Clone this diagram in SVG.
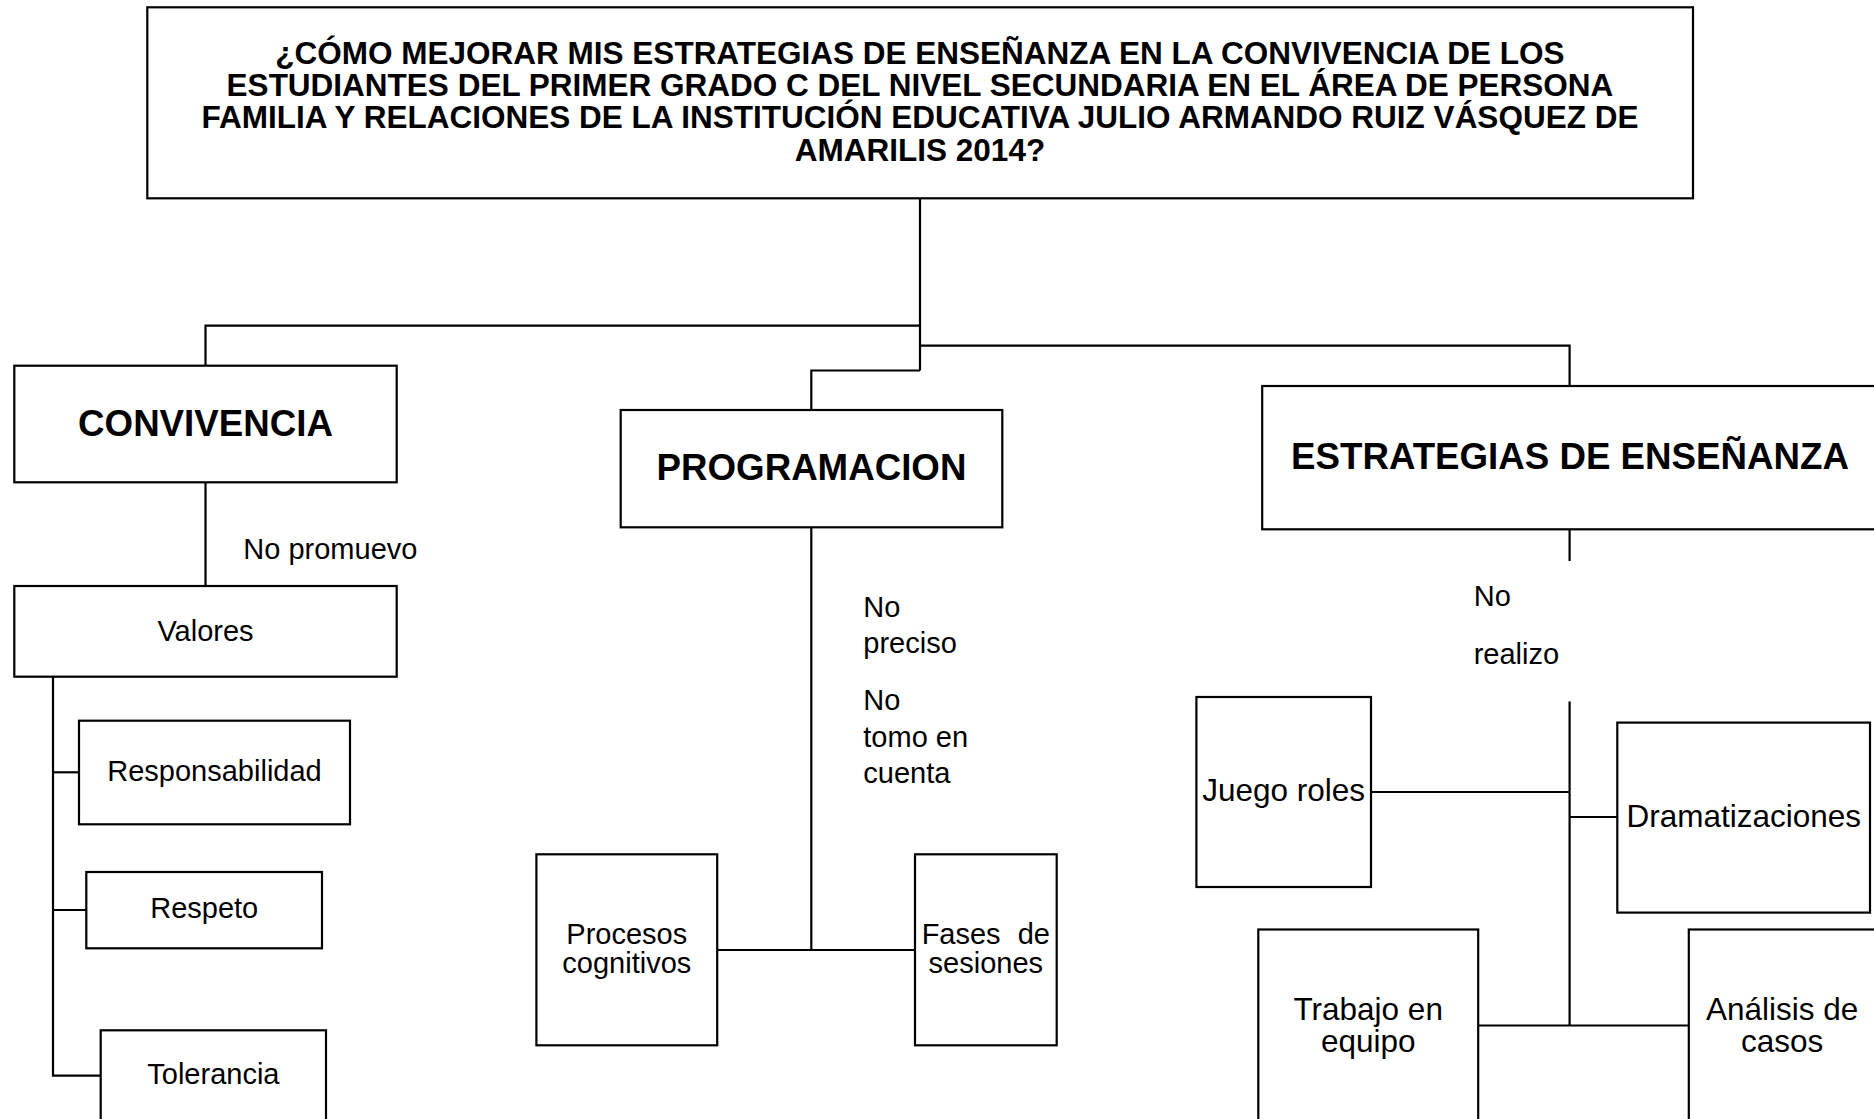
<svg xmlns="http://www.w3.org/2000/svg" width="1874" height="1119" viewBox="0 0 1874 1119">
<style>
  .box { fill: #ffffff; stroke: #000000; stroke-width: 2.2; }
  .ln { fill: none; stroke: #000000; stroke-width: 2.2; }
  text { font-family: "Liberation Sans", Arial, sans-serif; fill: #000000; }
  .title { font-size: 31.5px; font-weight: bold; text-anchor: middle; }
  .head { font-size: 36.7px; font-weight: bold; text-anchor: middle; }
  .lbl { font-size: 29px; text-anchor: middle; }
  .lbl2 { font-size: 31.5px; text-anchor: middle; }
  .note { font-size: 29px; }
</style>
<rect width="1874" height="1119" fill="#ffffff"/>

<g id="connectors">
  <path class="ln" d="M920,198 V370.5"/>
  <path class="ln" d="M920,325.7 H205.5 V365.7"/>
  <path class="ln" d="M920,345.7 H1569.6 V386"/>
  <path class="ln" d="M920,370.5 H811.3 V410"/>
  <path class="ln" d="M205.5,482.3 V586"/>
  <path class="ln" d="M53,676.7 V1075.7 H100.7"/>
  <path class="ln" d="M53,772.3 H79"/>
  <path class="ln" d="M53,910 H86.3"/>
  <path class="ln" d="M811.3,527.3 V950"/>
  <path class="ln" d="M717.2,950 H915"/>
  <path class="ln" d="M1569.6,529.3 V561"/>
  <path class="ln" d="M1569.6,701.5 V1025.5"/>
  <path class="ln" d="M1371,792 H1569.6"/>
  <path class="ln" d="M1569.6,817 H1617.3"/>
  <path class="ln" d="M1478.2,1025.5 H1688.8"/>
</g>

<g id="node-title">
  <rect class="box" x="147.3" y="7.3" width="1545.7" height="191"/>
  <text class="title" x="920" y="63.5">¿CÓMO MEJORAR MIS ESTRATEGIAS DE ENSEÑANZA EN LA CONVIVENCIA DE LOS</text>
  <text class="title" x="920" y="95.5">ESTUDIANTES DEL PRIMER GRADO C DEL NIVEL SECUNDARIA EN EL ÁREA DE PERSONA</text>
  <text class="title" x="920" y="128.3">FAMILIA Y RELACIONES DE LA INSTITUCIÓN EDUCATIVA JULIO ARMANDO RUIZ VÁSQUEZ DE</text>
  <text class="title" x="920" y="160.7">AMARILIS 2014?</text>
</g>

<g id="node-convivencia">
  <rect class="box" x="14.3" y="365.7" width="382.4" height="116.6"/>
  <text class="head" x="205.5" y="436">CONVIVENCIA</text>
</g>

<g id="node-programacion">
  <rect class="box" x="620.7" y="410" width="381.6" height="117.3"/>
  <text class="head" x="811.5" y="480">PROGRAMACION</text>
</g>

<g id="node-estrategias">
  <rect class="box" x="1262.2" y="386" width="620" height="143.3"/>
  <text class="head" x="1570" y="469">ESTRATEGIAS DE ENSEÑANZA</text>
</g>

<g id="label-no-promuevo">
  <text class="note" x="243.3" y="559.3">No promuevo</text>
</g>

<g id="node-valores">
  <rect class="box" x="14.3" y="586" width="382.4" height="90.7"/>
  <text class="lbl" x="205.5" y="640.7">Valores</text>
</g>

<g id="node-responsabilidad">
  <rect class="box" x="79" y="720.7" width="271" height="103.6"/>
  <text class="lbl" x="214.5" y="780.7">Responsabilidad</text>
</g>

<g id="node-respeto">
  <rect class="box" x="86.3" y="872" width="235.7" height="76.3"/>
  <text class="lbl" x="204.2" y="918.3">Respeto</text>
</g>

<g id="node-tolerancia">
  <rect class="box" x="100.7" y="1030.3" width="225.3" height="110"/>
  <text class="lbl" x="213.4" y="1084">Tolerancia</text>
</g>

<g id="label-programacion">
  <text class="note" x="863.3" y="616.7">No</text>
  <text class="note" x="863.3" y="652.7">preciso</text>
  <text class="note" x="863.3" y="710">No</text>
  <text class="note" x="863.3" y="746.7">tomo en</text>
  <text class="note" x="863.3" y="783.3">cuenta</text>
</g>

<g id="node-procesos">
  <rect class="box" x="536.4" y="854.3" width="180.8" height="191"/>
  <text class="lbl" x="626.8" y="944">Procesos</text>
  <text class="lbl" x="626.8" y="973">cognitivos</text>
</g>

<g id="node-fases">
  <rect class="box" x="915" y="854.3" width="141.7" height="191"/>
  <text class="lbl" x="985.8" y="944" word-spacing="9">Fases de</text>
  <text class="lbl" x="985.8" y="973">sesiones</text>
</g>

<g id="label-no-realizo">
  <text class="note" x="1473.7" y="606">No</text>
  <text class="note" x="1473.7" y="664">realizo</text>
</g>

<g id="node-juego">
  <rect class="box" x="1196.4" y="697" width="174.6" height="190"/>
  <text class="lbl2" x="1283.7" y="801">Juego roles</text>
</g>

<g id="node-dramatizaciones">
  <rect class="box" x="1617.3" y="722.6" width="252.7" height="190"/>
  <text class="lbl2" x="1743.7" y="826.5">Dramatizaciones</text>
</g>

<g id="node-trabajo">
  <rect class="box" x="1258.3" y="929.5" width="219.9" height="210"/>
  <text class="lbl2" x="1368.2" y="1019.5">Trabajo en</text>
  <text class="lbl2" x="1368.2" y="1052">equipo</text>
</g>

<g id="node-analisis">
  <rect class="box" x="1688.8" y="929.5" width="190" height="210"/>
  <text class="lbl2" x="1782.2" y="1019.5">Análisis de</text>
  <text class="lbl2" x="1782.2" y="1052">casos</text>
</g>
</svg>
